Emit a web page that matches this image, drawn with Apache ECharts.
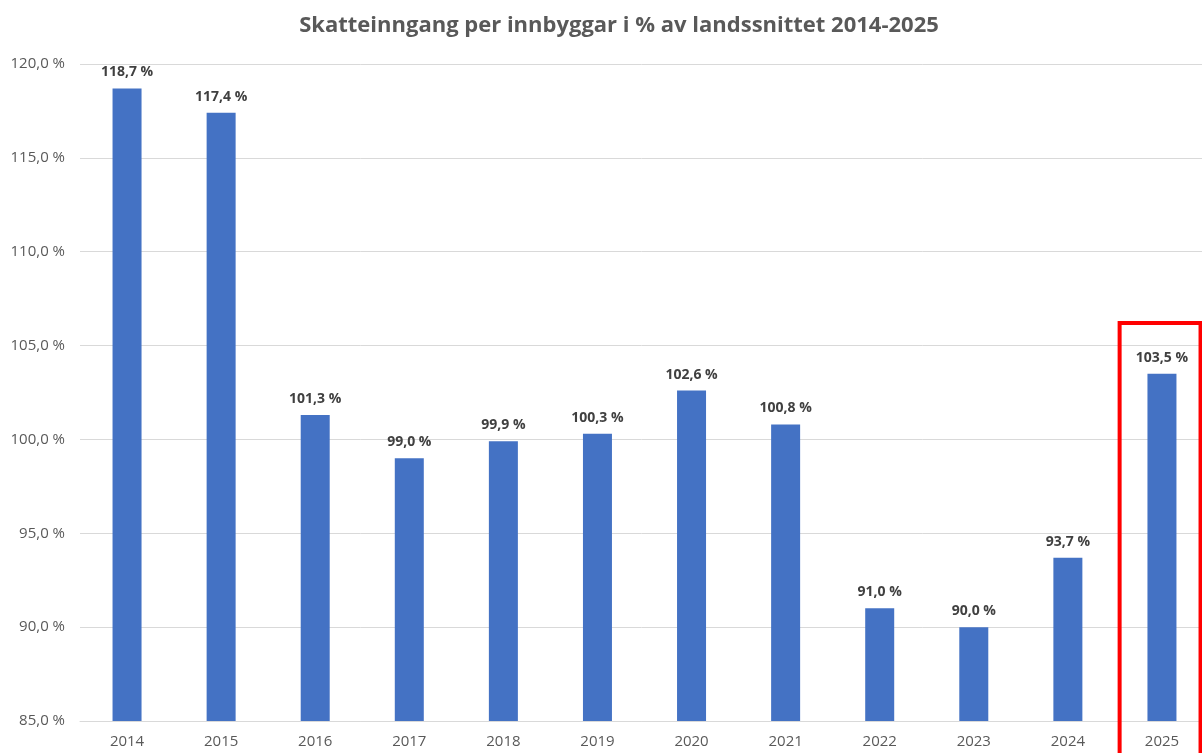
<!DOCTYPE html>
<html>
<head>
<meta charset="utf-8">
<script src="https://cdn.jsdelivr.net/npm/echarts@6/dist/echarts.min.js"></script>
<style>
  html, body { margin: 0; padding: 0; background: #fff; }
  #chart { width: 1202px; height: 753px; }
</style>
</head>
<body>
<div id="chart"></div>
<script>
const years = ['2014', '2015', '2016', '2017', '2018', '2019', '2020', '2021', '2022', '2023', '2024', '2025']
const shares = [118.7, 117.4, 101.3, 99.0, 99.9, 100.3, 102.6, 100.8, 91.0, 90.0, 93.7, 103.5]
const highlightYear = '2025'

const fmt = v => v.toFixed(1).replace('.', ',') + ' %'
const font = '"Open Sans", "Noto Sans", sans-serif'

const chart = echarts.init(document.getElementById('chart'), null, {renderer: 'canvas'})

chart.setOption({
  animation: false,
  backgroundColor: '#fff',
  title: {
    text: 'Skatteinngang per innbyggar i % av landssnittet 2014-2025',
    left: 614,
    textAlign: 'center',
    top: 10,
    textStyle: {fontFamily: font, fontSize: 22, fontWeight: 'bold', color: '#595959'}
  },
  grid: {left: 80, top: 64, width: 1129, height: 657, outerBoundsMode: 'none'},
  xAxis: {
    type: 'category',
    data: years,
    axisLine: {lineStyle: {color: '#d9d9d9'}},
    axisTick: {show: false},
    axisLabel: {fontFamily: font, fontSize: 15, color: '#595959', margin: 13}
  },
  yAxis: {
    type: 'value',
    min: 85,
    max: 120,
    interval: 5,
    axisLine: {show: false},
    axisTick: {show: false},
    splitLine: {lineStyle: {color: '#d9d9d9'}},
    axisLabel: {fontFamily: font, fontSize: 15, color: '#595959', margin: 15, formatter: fmt}
  },
  series: [{
    type: 'bar',
    data: shares,
    barWidth: 29,
    itemStyle: {color: '#4472C4'},
    label: {
      show: true,
      position: 'top',
      distance: 9,
      fontFamily: font,
      fontSize: 14,
      fontWeight: 'bold',
      color: '#404040',
      formatter: p => fmt(p.value)
    }
  }]
})

// red frame around the highlighted year
const c = chart.convertToPixel({seriesIndex: 0}, [highlightYear, 106.2])
const step = chart.convertToPixel({xAxisIndex: 0}, years[1]) - chart.convertToPixel({xAxisIndex: 0}, years[0])
chart.setOption({
  graphic: [{
    type: 'rect',
    shape: {x: c[0] - step * 0.45, y: c[1], width: step * 0.86, height: 753 - c[1] + 10},
    style: {fill: 'none', stroke: '#ff0000', lineWidth: 4},
    z: 100
  }]
})
</script>
</body>
</html>
